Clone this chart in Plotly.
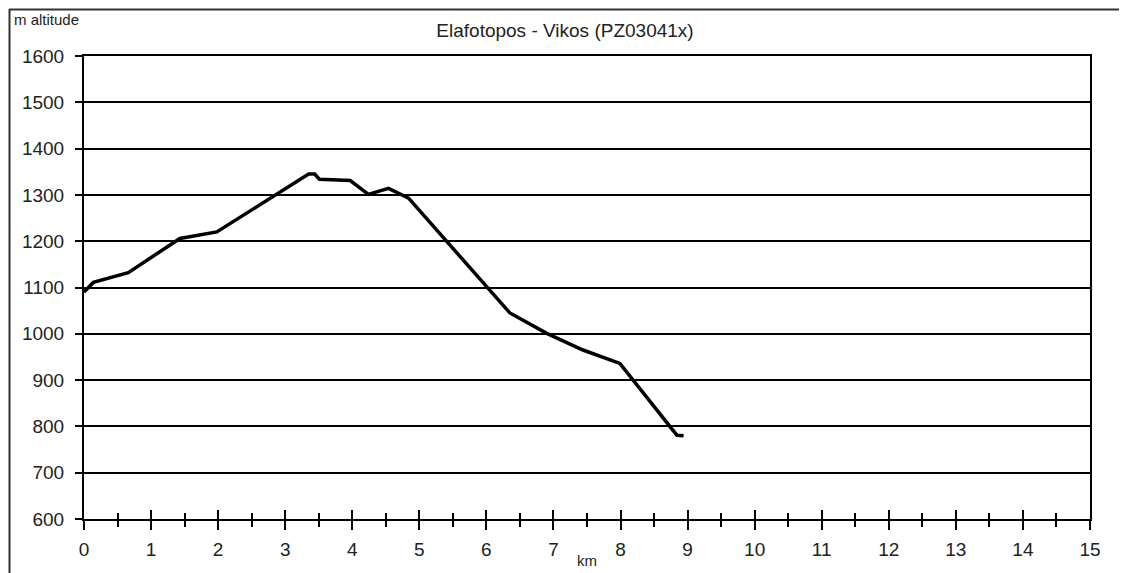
import plotly.graph_objects as go

# Data
distance_km = [0, 0.14, 0.66, 1.43, 1.98, 2.75, 3.35, 3.44, 3.51, 3.97, 4.24, 4.54, 4.84,
               6.35, 6.90, 7.44, 7.99, 8.84, 8.94]
altitude_m = [1090, 1111, 1132, 1206, 1220, 1290, 1345, 1345, 1334, 1331, 1301, 1314, 1293,
              1045, 1001, 965, 936, 781, 780]

title_text = "Elafotopos - Vikos (PZ03041x)"
x_tickvals = list(range(0, 16))
y_tickvals = list(range(600, 1700, 100))

FONT = "Liberation Sans, Arial, sans-serif"
TXT = "#222222"

# page body has an 8px margin; figure is sized/positioned to compensate
W, H = 1119, 565
L, R, T, B = 76, 37, 48, 54
PW, PH = W - L - R, H - T - B  # plot area size (1006 x 463)


def px(page_x):
    return (page_x - 8 - L) / PW


def py(page_y):
    return (H - B - (page_y - 8)) / PH


fig = go.Figure()
fig.add_trace(go.Scatter(
    x=distance_km, y=altitude_m, mode="lines",
    line=dict(color="black", width=3.5),
    showlegend=False, hoverinfo="x+y",
))
# invisible trace on overlay axis to carry inside ticks (cross ticks)
fig.add_trace(go.Scatter(x=[0, 15], y=[600, 600], xaxis="x2", mode="lines",
                         line=dict(width=0), showlegend=False, hoverinfo="skip"))

fig.update_layout(
    width=W, height=H,
    margin=dict(l=L, r=R, t=T, b=B),
    paper_bgcolor="white", plot_bgcolor="white",
    font=dict(family=FONT, color=TXT),
    xaxis=dict(
        range=[0, 15], tickvals=x_tickvals, ticktext=[str(v) for v in x_tickvals],
        ticks="outside", ticklen=9, tickwidth=1.5, tickcolor="black",
        minor=dict(ticks="outside", dtick=0.5, tick0=0, ticklen=6, tickwidth=1.5, tickcolor="black"),
        showgrid=False, zeroline=False,
        showline=True, linecolor="black", linewidth=2, mirror=True,
        tickfont=dict(size=19, family=FONT, color=TXT),
        ticklabelstandoff=3,
    ),
    xaxis2=dict(
        overlaying="x", range=[0, 15], tickvals=x_tickvals, side="bottom",
        ticks="inside", ticklen=9, tickwidth=1.5, tickcolor="black",
        minor=dict(ticks="inside", dtick=0.5, tick0=0, ticklen=6, tickwidth=1.5, tickcolor="black"),
        showticklabels=False, showgrid=False, zeroline=False, showline=False,
    ),
    yaxis=dict(
        range=[600, 1600], tickvals=y_tickvals, ticktext=[str(v) for v in y_tickvals],
        ticks="outside", ticklen=7, tickwidth=1.5, tickcolor="black",
        showgrid=True, gridcolor="black", gridwidth=1.5,
        zeroline=False, showline=True, linecolor="black", linewidth=2, mirror=True,
        tickfont=dict(size=19, family=FONT, color=TXT),
        ticklabelstandoff=7,
    ),
    title=dict(text=title_text, x=(565 - 8) / W, xanchor="center",
               y=1 - (30 - 8) / H, yanchor="middle",
               font=dict(size=19, family=FONT, color=TXT)),
    annotations=[
        dict(text="m altitude", xref="paper", yref="paper",
             x=px(12), y=py(20), xanchor="left", yanchor="middle",
             showarrow=False, font=dict(size=15, family=FONT, color=TXT)),
        dict(text="km", xref="paper", yref="paper",
             x=px(587), y=py(560), xanchor="center", yanchor="middle",
             showarrow=False, font=dict(size=15, family=FONT, color=TXT)),
    ],
    shapes=[
        dict(type="line", xref="paper", yref="paper", x0=px(9.5), x1=px(9.5),
             y0=py(9), y1=py(600), line=dict(color="#333333", width=2)),
        dict(type="line", xref="paper", yref="paper", x0=px(9), x1=px(1140),
             y0=py(9.5), y1=py(9.5), line=dict(color="#333333", width=2)),
    ],
)

fig.write_html("out.html")
